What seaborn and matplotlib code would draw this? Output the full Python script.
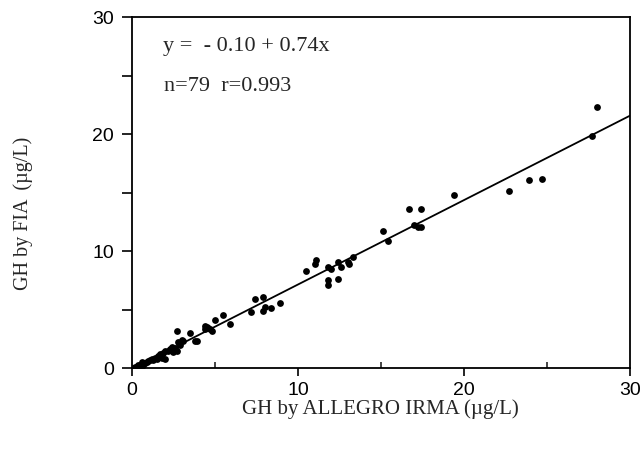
import matplotlib
matplotlib.use("Agg")
import matplotlib.pyplot as plt
import numpy as np
import pandas as pd
import seaborn as sns
from matplotlib.ticker import MultipleLocator

# GH values (ug/L)
irma = [28.0, 27.7, 24.7, 23.9, 22.7, 19.4,
        16.7, 17.4, 17.2, 17.4, 17.0,
        15.1, 15.4,
        13.3, 13.1, 12.6, 12.4, 12.4, 11.8, 11.8, 11.8, 12.0, 11.1, 11.0, 10.5, 13.0,
        8.9, 8.4, 8.0, 7.9, 7.9, 7.4, 7.2,
        5.9, 5.5, 5.0, 4.7, 4.4, 4.4, 3.9, 3.8, 3.5, 3.1, 2.7, 2.8, 2.7, 2.4, 2.2,
        2.0, 2.0, 1.7, 1.5, 1.2, 1.0, 0.6, 0.5, 0.35, 0.1,
        4.6, 4.8, 4.5, 3.0, 2.9, 2.6, 2.5, 2.3, 1.9, 1.8, 1.6, 1.4, 1.3, 1.1,
        0.9, 0.8, 0.7, 0.6, 0.4, 0.3, 0.2]
fia = [22.3, 19.8, 16.2, 16.1, 15.1, 14.8,
       13.6, 13.6, 12.1, 12.1, 12.2,
       11.7, 10.9,
       9.5, 8.9, 8.6, 9.1, 7.6, 7.5, 7.1, 8.6, 8.5, 9.2, 8.9, 8.3, 9.1,
       5.6, 5.1, 5.2, 6.1, 4.9, 5.9, 4.8,
       3.8, 4.5, 4.1, 3.3, 3.3, 3.6, 2.3, 2.3, 3.0, 2.3, 3.2, 2.2, 1.5, 1.8, 1.5,
       0.8, 1.5, 1.2, 0.8, 0.8, 0.6, 0.5, 0.3, 0.2, 0.05,
       3.4, 3.2, 3.5, 2.4, 2.0, 1.7, 1.4, 1.6, 1.3, 0.9, 1.0, 0.9, 0.7, 0.7,
       0.5, 0.4, 0.3, 0.2, 0.25, 0.1, 0.1]

eq_text = "y =  - 0.10 + 0.74x"
stat_text = "n=79  r=0.993"

df = pd.DataFrame({"irma": irma, "fia": fia})

sns.set_style("ticks")
fig = plt.figure(figsize=(6.43, 4.5), dpi=100)
ax = fig.add_axes([0.205, 0.182, 0.775, 0.78])
ax.set_xlim(0, 30)
ax.set_ylim(0, 30)

sns.regplot(data=df, x="irma", y="fia", ax=ax, ci=None, truncate=False,
            color="black", scatter_kws={"s": 24, "linewidths": 0, "alpha": 1},
            line_kws={"linewidth": 1.3, "clip_on": True})
ax.set_xlim(0, 30)
ax.set_ylim(0, 30)

for side in ["left", "right", "top", "bottom"]:
    ax.spines[side].set_visible(True)
    ax.spines[side].set_color("black")
    ax.spines[side].set_linewidth(1.3)

ax.xaxis.set_major_locator(MultipleLocator(10))
ax.xaxis.set_minor_locator(MultipleLocator(5))
ax.yaxis.set_major_locator(MultipleLocator(10))
ax.yaxis.set_minor_locator(MultipleLocator(5))
ax.tick_params(axis="x", which="major", direction="out", length=6, width=1.2,
               labelsize=14, pad=4, colors="black")
ax.tick_params(axis="x", which="minor", direction="in", length=4, width=1.2)
ax.tick_params(axis="y", which="both", direction="out", length=7, width=1.2,
               labelsize=14, pad=6, colors="black")
for lab in ax.get_xticklabels() + ax.get_yticklabels():
    lab.set_family("Liberation Sans")

serif = ["Liberation Serif", "DejaVu Serif"]
ax.set_xlabel("GH by ALLEGRO IRMA (µg/L)", fontsize=15, family=serif)
ax.set_ylabel("GH by FIA  (µg/L)", fontsize=14.5, family=serif)
ax.xaxis.set_label_coords(0.498, -0.088)
ax.yaxis.set_label_coords(-0.198, 0.44)

ax.text(1.85, 27.5, eq_text, fontsize=16, family=serif, va="center")
ax.text(1.95, 24.1, stat_text, fontsize=16, family=serif, va="center")

fig.savefig("out.png", dpi=100)
